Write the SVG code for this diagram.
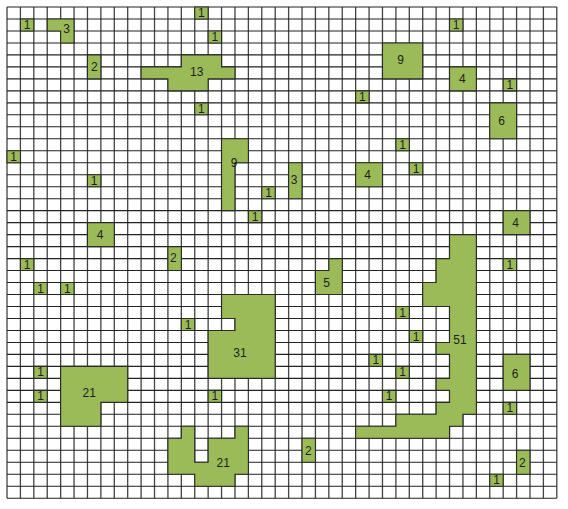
<svg xmlns="http://www.w3.org/2000/svg" width="568" height="509" viewBox="0 0 568 509">
<style>
.grid{fill:none;stroke:#222;stroke-width:1.1;}
.gv{fill:none;stroke:#444;stroke-width:1.3;}
.cell{fill:#9BBB59;stroke:#2a2a2a;stroke-width:1.1;}
text{font-family:"Liberation Sans",Arial,sans-serif;font-size:12px;fill:#1e1e1e;text-anchor:middle;}
</style>
<rect x="0" y="0" width="568" height="509" fill="#ffffff"/>
<g id="grid" transform="matrix(13.41 0 0 11.98 7 7)">
<path class="gv" vector-effect="non-scaling-stroke" d="M0 0V41M1 0V41M2 0V41M3 0V41M4 0V41M5 0V41M6 0V41M7 0V41M8 0V41M9 0V41M10 0V41M11 0V41M12 0V41M13 0V41M14 0V41M15 0V41M16 0V41M17 0V41M18 0V41M19 0V41M20 0V41M21 0V41M22 0V41M23 0V41M24 0V41M25 0V41M26 0V41M27 0V41M28 0V41M29 0V41M30 0V41M31 0V41M32 0V41M33 0V41M34 0V41M35 0V41M36 0V41M37 0V41M38 0V41M39 0V41M40 0V41M41 0V41"/>
<path class="grid" vector-effect="non-scaling-stroke" d="M0 0H41M0 1H41M0 2H41M0 3H41M0 4H41M0 5H41M0 6H41M0 7H41M0 8H41M0 9H41M0 10H41M0 11H41M0 12H41M0 13H41M0 14H41M0 15H41M0 16H41M0 17H41M0 18H41M0 19H41M0 20H41M0 21H41M0 22H41M0 23H41M0 24H41M0 25H41M0 26H41M0 27H41M0 28H41M0 29H41M0 30H41M0 31H41M0 32H41M0 33H41M0 34H41M0 35H41M0 36H41M0 37H41M0 38H41M0 39H41M0 40H41M0 41H41"/>
</g>
<g id="connectors"></g>
<g id="shapes">
<g id="s3a"><path class="cell" vector-effect="non-scaling-stroke" transform="matrix(13.41 0 0 11.98 7 7)" d="M3 1H5V3H4V2H3Z"/><text x="66.7" y="33">3</text></g>
<g id="s2a"><path class="cell" vector-effect="non-scaling-stroke" transform="matrix(13.41 0 0 11.98 7 7)" d="M6 4H7V6H6Z"/><text x="94.3" y="70.7">2</text></g>
<g id="s13"><path class="cell" vector-effect="non-scaling-stroke" transform="matrix(13.41 0 0 11.98 7 7)" d="M13 4H16V5H17V6H15V7H12V6H10V5H13Z"/><text x="196.7" y="75.7">13</text></g>
<g id="s9a"><path class="cell" vector-effect="non-scaling-stroke" transform="matrix(13.41 0 0 11.98 7 7)" d="M28 3H31V6H28Z"/><text x="400.7" y="64">9</text></g>
<g id="s4a"><path class="cell" vector-effect="non-scaling-stroke" transform="matrix(13.41 0 0 11.98 7 7)" d="M33 5H35V7H33Z"/><text x="462.3" y="83">4</text></g>
<g id="s6a"><path class="cell" vector-effect="non-scaling-stroke" transform="matrix(13.41 0 0 11.98 7 7)" d="M36 8H38V11H36Z"/><text x="501.7" y="125">6</text></g>
<g id="s9b"><path class="cell" vector-effect="non-scaling-stroke" transform="matrix(13.41 0 0 11.98 7 7)" d="M16 11H18V13H17V17H16Z"/><text x="234" y="166.7">9</text></g>
<g id="s3b"><path class="cell" vector-effect="non-scaling-stroke" transform="matrix(13.41 0 0 11.98 7 7)" d="M21 13H22V16H21Z"/><text x="294" y="184">3</text></g>
<g id="s4b"><path class="cell" vector-effect="non-scaling-stroke" transform="matrix(13.41 0 0 11.98 7 7)" d="M26 13H28V15H26Z"/><text x="367.7" y="179">4</text></g>
<g id="s4c"><path class="cell" vector-effect="non-scaling-stroke" transform="matrix(13.41 0 0 11.98 7 7)" d="M6 18H8V20H6Z"/><text x="100" y="239">4</text></g>
<g id="s4d"><path class="cell" vector-effect="non-scaling-stroke" transform="matrix(13.41 0 0 11.98 7 7)" d="M37 17H39V19H37Z"/><text x="515.7" y="226.7">4</text></g>
<g id="s2b"><path class="cell" vector-effect="non-scaling-stroke" transform="matrix(13.41 0 0 11.98 7 7)" d="M12 20H13V22H12Z"/><text x="173.3" y="262.3">2</text></g>
<g id="s5"><path class="cell" vector-effect="non-scaling-stroke" transform="matrix(13.41 0 0 11.98 7 7)" d="M24 21H25V24H23V22H24Z"/><text x="326.7" y="286.7">5</text></g>
<g id="s51"><path class="cell" vector-effect="non-scaling-stroke" transform="matrix(13.41 0 0 11.98 7 7)" d="M33 19H35V34H34V35H33V36H26V35H29V34H32V33H33V32H32V31H33V29H32V28H33V25H31V23H32V21H33Z"/><text x="460" y="344">51</text></g>
<g id="s31"><path class="cell" vector-effect="non-scaling-stroke" transform="matrix(13.41 0 0 11.98 7 7)" d="M16 24H20V31H15V27H17V26H16Z"/><text x="240" y="356.7">31</text></g>
<g id="s21a"><path class="cell" vector-effect="non-scaling-stroke" transform="matrix(13.41 0 0 11.98 7 7)" d="M4 30H9V33H7V35H4Z"/><text x="89.3" y="397.3">21</text></g>
<g id="s6b"><path class="cell" vector-effect="non-scaling-stroke" transform="matrix(13.41 0 0 11.98 7 7)" d="M37 29H39V32H37Z"/><text x="515" y="378">6</text></g>
<g id="s21b"><path class="cell" vector-effect="non-scaling-stroke" transform="matrix(13.41 0 0 11.98 7 7)" d="M13 35H14V38H15V36H17V35H18V39H17V40H14V39H12V36H13Z"/><text x="223.3" y="466.7">21</text></g>
<g id="s2c"><path class="cell" vector-effect="non-scaling-stroke" transform="matrix(13.41 0 0 11.98 7 7)" d="M22 36H23V38H22Z"/><text x="308.3" y="455">2</text></g>
<g id="s2d"><path class="cell" vector-effect="non-scaling-stroke" transform="matrix(13.41 0 0 11.98 7 7)" d="M38 37H39V39H38Z"/><text x="522.3" y="467.3">2</text></g>
</g>
<g id="singles">
<g id="c1_1"><rect class="cell" vector-effect="non-scaling-stroke" transform="matrix(13.41 0 0 11.98 7 7)" x="1" y="1" width="1" height="1"/><text x="27.1" y="29">1</text></g>
<g id="c0_14"><rect class="cell" vector-effect="non-scaling-stroke" transform="matrix(13.41 0 0 11.98 7 7)" x="14" y="0" width="1" height="1"/><text x="201.4" y="17">1</text></g>
<g id="c2_15"><rect class="cell" vector-effect="non-scaling-stroke" transform="matrix(13.41 0 0 11.98 7 7)" x="15" y="2" width="1" height="1"/><text x="214.9" y="40.9">1</text></g>
<g id="c1_33"><rect class="cell" vector-effect="non-scaling-stroke" transform="matrix(13.41 0 0 11.98 7 7)" x="33" y="1" width="1" height="1"/><text x="456.2" y="29">1</text></g>
<g id="c6_37"><rect class="cell" vector-effect="non-scaling-stroke" transform="matrix(13.41 0 0 11.98 7 7)" x="37" y="6" width="1" height="1"/><text x="509.9" y="88.9">1</text></g>
<g id="c7_26"><rect class="cell" vector-effect="non-scaling-stroke" transform="matrix(13.41 0 0 11.98 7 7)" x="26" y="7" width="1" height="1"/><text x="362.4" y="100.9">1</text></g>
<g id="c8_14"><rect class="cell" vector-effect="non-scaling-stroke" transform="matrix(13.41 0 0 11.98 7 7)" x="14" y="8" width="1" height="1"/><text x="201.4" y="112.8">1</text></g>
<g id="c11_29"><rect class="cell" vector-effect="non-scaling-stroke" transform="matrix(13.41 0 0 11.98 7 7)" x="29" y="11" width="1" height="1"/><text x="402.6" y="148.8">1</text></g>
<g id="c12_0"><rect class="cell" vector-effect="non-scaling-stroke" transform="matrix(13.41 0 0 11.98 7 7)" x="0" y="12" width="1" height="1"/><text x="13.7" y="160.8">1</text></g>
<g id="c13_30"><rect class="cell" vector-effect="non-scaling-stroke" transform="matrix(13.41 0 0 11.98 7 7)" x="30" y="13" width="1" height="1"/><text x="416" y="172.7">1</text></g>
<g id="c14_6"><rect class="cell" vector-effect="non-scaling-stroke" transform="matrix(13.41 0 0 11.98 7 7)" x="6" y="14" width="1" height="1"/><text x="94.2" y="184.7">1</text></g>
<g id="c15_19"><rect class="cell" vector-effect="non-scaling-stroke" transform="matrix(13.41 0 0 11.98 7 7)" x="19" y="15" width="1" height="1"/><text x="268.5" y="196.7">1</text></g>
<g id="c17_18"><rect class="cell" vector-effect="non-scaling-stroke" transform="matrix(13.41 0 0 11.98 7 7)" x="18" y="17" width="1" height="1"/><text x="255.1" y="220.7">1</text></g>
<g id="c21_1"><rect class="cell" vector-effect="non-scaling-stroke" transform="matrix(13.41 0 0 11.98 7 7)" x="1" y="21" width="1" height="1"/><text x="27.1" y="268.6">1</text></g>
<g id="c21_37"><rect class="cell" vector-effect="non-scaling-stroke" transform="matrix(13.41 0 0 11.98 7 7)" x="37" y="21" width="1" height="1"/><text x="509.9" y="268.6">1</text></g>
<g id="c23_2"><rect class="cell" vector-effect="non-scaling-stroke" transform="matrix(13.41 0 0 11.98 7 7)" x="2" y="23" width="1" height="1"/><text x="40.5" y="292.5">1</text></g>
<g id="c23_4"><rect class="cell" vector-effect="non-scaling-stroke" transform="matrix(13.41 0 0 11.98 7 7)" x="4" y="23" width="1" height="1"/><text x="67.3" y="292.5">1</text></g>
<g id="c25_29"><rect class="cell" vector-effect="non-scaling-stroke" transform="matrix(13.41 0 0 11.98 7 7)" x="29" y="25" width="1" height="1"/><text x="402.6" y="316.5">1</text></g>
<g id="c26_13"><rect class="cell" vector-effect="non-scaling-stroke" transform="matrix(13.41 0 0 11.98 7 7)" x="13" y="26" width="1" height="1"/><text x="188" y="328.5">1</text></g>
<g id="c27_30"><rect class="cell" vector-effect="non-scaling-stroke" transform="matrix(13.41 0 0 11.98 7 7)" x="30" y="27" width="1" height="1"/><text x="416" y="340.5">1</text></g>
<g id="c29_27"><rect class="cell" vector-effect="non-scaling-stroke" transform="matrix(13.41 0 0 11.98 7 7)" x="27" y="29" width="1" height="1"/><text x="375.8" y="364.4">1</text></g>
<g id="c30_2"><rect class="cell" vector-effect="non-scaling-stroke" transform="matrix(13.41 0 0 11.98 7 7)" x="2" y="30" width="1" height="1"/><text x="40.5" y="376.4">1</text></g>
<g id="c30_29"><rect class="cell" vector-effect="non-scaling-stroke" transform="matrix(13.41 0 0 11.98 7 7)" x="29" y="30" width="1" height="1"/><text x="402.6" y="376.4">1</text></g>
<g id="c32_2"><rect class="cell" vector-effect="non-scaling-stroke" transform="matrix(13.41 0 0 11.98 7 7)" x="2" y="32" width="1" height="1"/><text x="40.5" y="400.4">1</text></g>
<g id="c32_15"><rect class="cell" vector-effect="non-scaling-stroke" transform="matrix(13.41 0 0 11.98 7 7)" x="15" y="32" width="1" height="1"/><text x="214.9" y="400.4">1</text></g>
<g id="c32_28"><rect class="cell" vector-effect="non-scaling-stroke" transform="matrix(13.41 0 0 11.98 7 7)" x="28" y="32" width="1" height="1"/><text x="389.2" y="400.4">1</text></g>
<g id="c33_37"><rect class="cell" vector-effect="non-scaling-stroke" transform="matrix(13.41 0 0 11.98 7 7)" x="37" y="33" width="1" height="1"/><text x="509.9" y="412.3">1</text></g>
<g id="c39_36"><rect class="cell" vector-effect="non-scaling-stroke" transform="matrix(13.41 0 0 11.98 7 7)" x="36" y="39" width="1" height="1"/><text x="496.5" y="484.2">1</text></g>
</g>
</svg>
